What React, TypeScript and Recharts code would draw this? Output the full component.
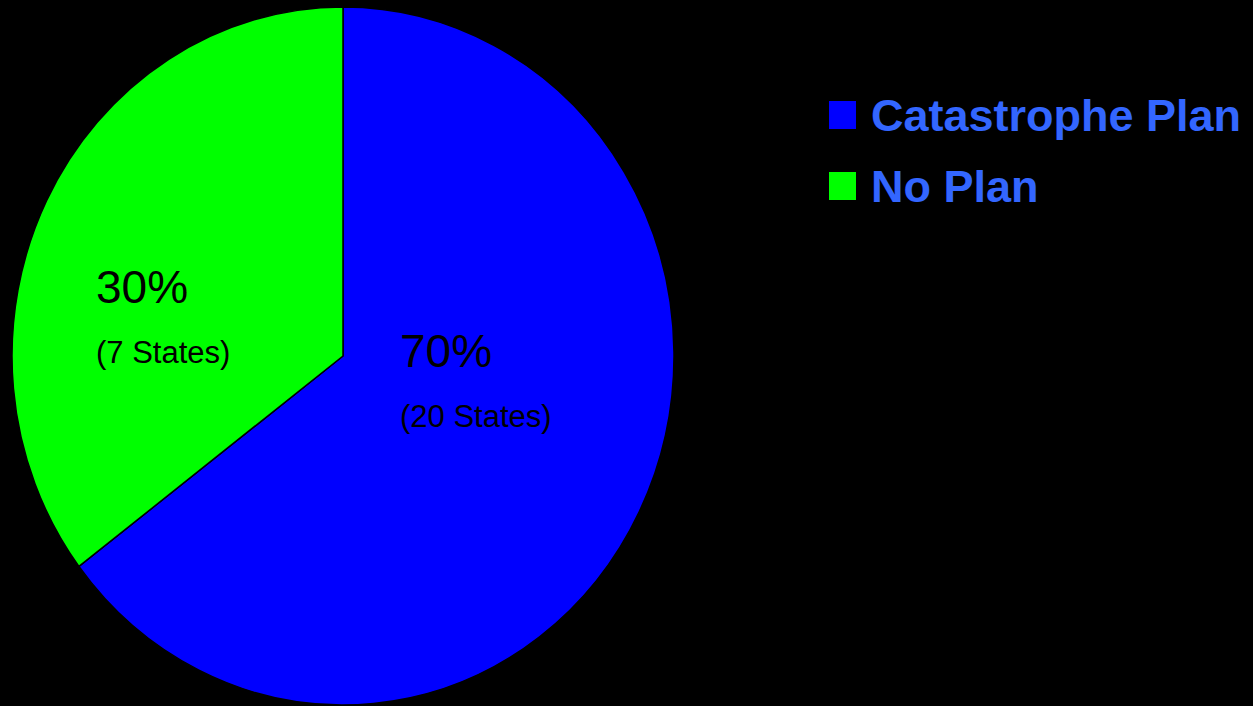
import { PieChart, Pie, Cell, Legend } from 'recharts';

const categories = ['Catastrophe Plan', 'No Plan'];
const sliceValues = [64.7, 35.3];
const percentLabels = ['70%', '30%'];
const stateLabels = ['(20 States)', '(7 States)'];
const colors = ['#0000FF', '#00FF00'];

const chartData = categories.map((name, i) => ({ name, value: sliceValues[i] }));

// label placement relative to pie center (x, baseline of big text, baseline of small text)
const labelOffsets = [
  { dx: 57, dy1: 11, dy2: 71 },
  { dx: -247, dy1: -53, dy2: 7 },
];

const Y_STRETCH = 349 / 331; // the original pie is slightly taller than wide
const FONT = '"Liberation Sans", Arial, Helvetica, sans-serif';
const RAD = Math.PI / 180;

const EllipseSector = (props: any) => {
  const { cx, cy, outerRadius, startAngle, endAngle, fill } = props;
  const rx = outerRadius;
  const ry = outerRadius * Y_STRETCH;
  const x1 = cx + rx * Math.cos(-startAngle * RAD);
  const y1 = cy + ry * Math.sin(-startAngle * RAD);
  const x2 = cx + rx * Math.cos(-endAngle * RAD);
  const y2 = cy + ry * Math.sin(-endAngle * RAD);
  const large = Math.abs(endAngle - startAngle) > 180 ? 1 : 0;
  const sweep = startAngle > endAngle ? 1 : 0;
  const d = `M${cx},${cy} L${x1},${y1} A${rx},${ry} 0 ${large} ${sweep} ${x2},${y2} Z`;
  return <path d={d} fill={fill} stroke="#000" strokeWidth={1.5} strokeLinejoin="round" />;
};

const renderLabel = (props: any) => {
  const { cx, cy, index } = props;
  const off = labelOffsets[index];
  return (
    <g>
      <text x={cx + off.dx} y={cy + off.dy1} fill="#000" fontSize={46} fontFamily={FONT}>
        {percentLabels[index]}
      </text>
      <text x={cx + off.dx} y={cy + off.dy2} fill="#000" fontSize={31} fontFamily={FONT}>
        {stateLabels[index]}
      </text>
    </g>
  );
};

const renderLegend = () => (
  <div style={{ fontFamily: FONT }}>
    {categories.map((name, i) => (
      <div key={name} style={{ display: 'flex', alignItems: 'center', height: 71 }}>
        <div style={{ width: 27, height: 28, background: colors[i], marginRight: 15 }} />
        <span style={{ color: '#3366FF', fontSize: 45, fontWeight: 'bold', lineHeight: '45px', whiteSpace: 'nowrap' }}>
          {name}
        </span>
      </div>
    ))}
  </div>
);

export default function App() {
  return (
    <div style={{ position: 'fixed', left: 0, top: 0, width: 1253, height: 706, background: '#000', overflow: 'hidden' }}>
      <PieChart width={1253} height={706} margin={{ top: 0, right: 0, bottom: 0, left: 0 }}>
        <Pie
          data={chartData}
          dataKey="value"
          nameKey="name"
          cx={343}
          cy={356}
          outerRadius={331}
          startAngle={90}
          endAngle={-270}
          stroke="#000"
          shape={EllipseSector}
          label={renderLabel}
          labelLine={false}
          isAnimationActive={false}
        >
          {chartData.map((d, i) => (
            <Cell key={d.name} fill={colors[i]} />
          ))}
        </Pie>
        <Legend
          content={renderLegend}
          layout="vertical"
          wrapperStyle={{ position: 'absolute', left: 829, top: 79.5, width: 424 }}
        />
      </PieChart>
    </div>
  );
}
